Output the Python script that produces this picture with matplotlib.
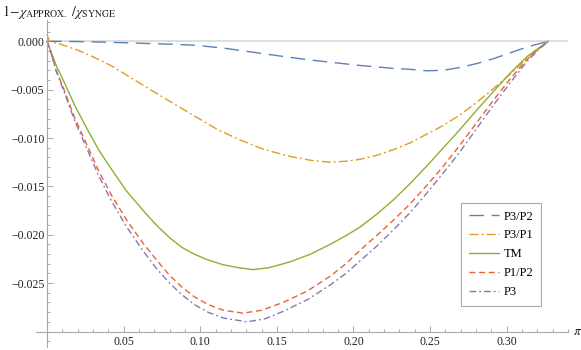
"""Relative error of approximate chi versus Synge's exact value."""
import matplotlib.pyplot as plt
from matplotlib.ticker import FuncFormatter, MultipleLocator

plt.rcParams.update(
    {
        "font.family": ["Liberation Serif", "DejaVu Serif"],
        "font.size": 8.5,
        "mathtext.fontset": "stix",
        "figure.dpi": 100,
    }
)

x_p3p2 = [0.0, 0.020, 0.040, 0.060, 0.080, 0.096, 0.115, 0.133, 0.151, 0.170, 0.187, 0.2043,
          0.226, 0.237, 0.2478, 0.2587, 0.2696, 0.2805, 0.2913, 0.3022, 0.3131, 0.320, 0.327]
y_p3p2 = [0.0, -0.00003, -0.0001, -0.0002, -0.0003, -0.0004, -0.0007, -0.0011, -0.0015, -0.0019, -0.0022, -0.0025,
          -0.0028, -0.0029, -0.00305, -0.0030, -0.0027, -0.0023, -0.0018, -0.0012, -0.0006, -0.0003, 0.0]

x_p3p1 = [0.0, 0.0015, 0.0089, 0.0198, 0.0300, 0.0416, 0.0520, 0.0633, 0.0800, 0.0960, 0.1110, 0.1260,
          0.1420, 0.1586, 0.1720, 0.1847, 0.1950, 0.2043, 0.2150, 0.2260, 0.2370, 0.2478, 0.2587,
          0.2696, 0.2805, 0.2913, 0.3022, 0.3131, 0.3200, 0.327]
y_p3p1 = [0.0007, 0.0, -0.0003, -0.0009, -0.0016, -0.0025, -0.0035, -0.0046, -0.0062, -0.0077, -0.0091, -0.0102,
          -0.0112, -0.0119, -0.0123, -0.0125, -0.0124, -0.0122, -0.0118, -0.0112, -0.0105, -0.0096, -0.0087,
          -0.0076, -0.0063, -0.0049, -0.0034, -0.0018, -0.0009, 0.0]

x_tm = [0.0, 0.0024, 0.0060, 0.0111, 0.0180, 0.0263, 0.0340, 0.0424, 0.0520, 0.0633, 0.0720, 0.0800,
        0.0880, 0.0960, 0.1050, 0.1149, 0.1250, 0.1345, 0.1450, 0.1586, 0.1720, 0.1847, 0.1950, 0.2043,
        0.2150, 0.2260, 0.2370, 0.2478, 0.2587, 0.2696, 0.2805, 0.2913, 0.3022, 0.3131, 0.3200, 0.327]
y_tm = [0.0, -0.0010, -0.0025, -0.0042, -0.0066, -0.0091, -0.0113, -0.0133, -0.0155, -0.0176, -0.0191, -0.0203,
        -0.0213, -0.0220, -0.0226, -0.0231, -0.0234, -0.0236, -0.0234, -0.0228, -0.0220, -0.0210, -0.0201, -0.0192,
        -0.0179, -0.0164, -0.0147, -0.0129, -0.0110, -0.0091, -0.0071, -0.0052, -0.0033, -0.0016, -0.0008, 0.0]

x_p1p2 = [0.0, 0.0024, 0.0060, 0.0111, 0.0180, 0.0263, 0.0340, 0.0424, 0.0520, 0.0633, 0.0720, 0.0800,
          0.0880, 0.0960, 0.1050, 0.1150, 0.1279, 0.1400, 0.1540, 0.1700, 0.1847, 0.1950, 0.2043, 0.2150,
          0.2260, 0.2370, 0.2478, 0.2587, 0.2696, 0.2805, 0.2913, 0.3022, 0.3131, 0.3200, 0.327]
y_p1p2 = [0.0, -0.0011, -0.0030, -0.0050, -0.0079, -0.0108, -0.0135, -0.0160, -0.0185, -0.0210, -0.0227, -0.0242,
          -0.0254, -0.0264, -0.0272, -0.0278, -0.0281, -0.0278, -0.0270, -0.0258, -0.0243, -0.0230, -0.0216, -0.0201,
          -0.0185, -0.0168, -0.0149, -0.0129, -0.0107, -0.0084, -0.0061, -0.0039, -0.0019, -0.0009, 0.0]

x_p3 = [0.0, 0.0024, 0.0060, 0.0111, 0.0180, 0.0263, 0.0340, 0.0424, 0.0520, 0.0633, 0.0720, 0.0800,
        0.0880, 0.0960, 0.1050, 0.1150, 0.1304, 0.1420, 0.1543, 0.1700, 0.1847, 0.1950, 0.2043, 0.2150,
        0.2260, 0.2370, 0.2478, 0.2587, 0.2696, 0.2805, 0.2913, 0.3022, 0.3131, 0.3200, 0.327]
y_p3 = [0.0, -0.0011, -0.0031, -0.0052, -0.0082, -0.0112, -0.0140, -0.0166, -0.0192, -0.0218, -0.0236, -0.0250,
        -0.0262, -0.0272, -0.0280, -0.0286, -0.0290, -0.0287, -0.0279, -0.0267, -0.0252, -0.0240, -0.0227, -0.0212,
        -0.0195, -0.0177, -0.0157, -0.0136, -0.0114, -0.0090, -0.0066, -0.0043, -0.0021, -0.0010, 0.0]

series = [
    ("P3/P2", x_p3p2, y_p3p2, "#5E81B5", (0, (10.5, 5.5))),
    ("P3/P1", x_p3p1, y_p3p1, "#E19C24", (0, (6.5, 2.2, 1.4, 2.2))),
    ("TM", x_tm, y_tm, "#8FB032", "-"),
    ("P1/P2", x_p1p2, y_p1p2, "#EB6235", (0, (4.3, 2.6))),
    ("P3", x_p3, y_p3, "#8778B3", (0, (4.8, 2.2, 1.3, 2.2))),
]

x_lo, x_hi = -0.0072, 0.340
y_lo, y_hi = -0.0316, 0.0022
axis_grey = "#a8a8a8"

fig = plt.figure(figsize=(5.81, 3.5))
ax = fig.add_axes([36 / 581, 1 - 347 / 350, (568 - 36) / 581, (347 - 20) / 350])
ax.set_xlim(x_lo, x_hi)
ax.set_ylim(y_lo, y_hi)

ax.axhline(0, xmin=(0 - x_lo) / (x_hi - x_lo), color="#dcdcdc", lw=1.3, zorder=0)

for name, xs, ys, col, ls in series:
    ax.plot(xs, ys, color=col, ls=ls, lw=1.0, label=name)

for side in ("top", "right"):
    ax.spines[side].set_visible(False)
ax.spines["left"].set_position(("data", 0))
ax.spines["bottom"].set_position(("data", -0.030))
for side in ("left", "bottom"):
    ax.spines[side].set_color(axis_grey)
    ax.spines[side].set_linewidth(0.8)

ax.xaxis.set_major_locator(MultipleLocator(0.05))
ax.xaxis.set_minor_locator(MultipleLocator(0.01))
ax.yaxis.set_major_locator(MultipleLocator(0.005))
ax.yaxis.set_minor_locator(MultipleLocator(0.001))

fmt_x = FuncFormatter(lambda v, p: "" if abs(v) < 1e-9 else f"{v:.2f}")
fmt_y = FuncFormatter(
    lambda v, p: "" if abs(v + 0.030) < 1e-9 else f"{v:.3f}".replace("-", "\u2212").replace("\u22120.000", "0.000")
)
ax.xaxis.set_major_formatter(fmt_x)
ax.yaxis.set_major_formatter(fmt_y)
ax.tick_params(which="both", direction="in", color=axis_grey, width=0.7, labelcolor="#222222")
ax.tick_params(which="major", length=4)
ax.tick_params(which="minor", length=2.3)
ax.tick_params(axis="x", pad=3)
ax.tick_params(axis="y", pad=2)

fig.text(2 / 581, 1 - 16 / 350, r"$1\!-\!\chi_{\mathrm{APPROX.}}\ /\chi_{\mathrm{SYNGE}}$",
         fontsize=10, va="baseline", ha="left", color="#222222")
ax.text(x_hi + 0.003, -0.030, r"$\pi$", fontsize=9.5, va="center", ha="left", color="#222222")

leg = ax.legend(
    loc="upper left",
    bbox_to_anchor=(461 / 581, 1 - 203 / 350),
    bbox_transform=fig.transFigure,
    borderaxespad=0,
    fontsize=9,
    handlelength=2.4,
    handletextpad=0.45,
    labelspacing=0.55,
    borderpad=0.6,
    fancybox=False,
    framealpha=1,
)
leg.get_frame().set_edgecolor(axis_grey)
leg.get_frame().set_linewidth(0.8)

fig.savefig("out.png", dpi=100)
